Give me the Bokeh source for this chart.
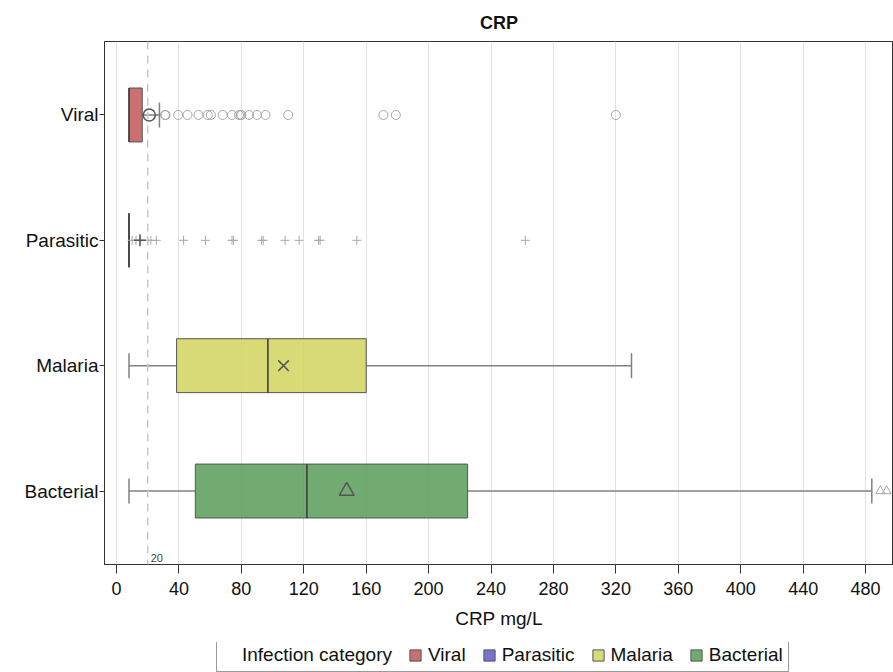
import math
from bokeh.plotting import figure
from bokeh.layouts import column
from bokeh.models import (ColumnDataSource, Range1d, FixedTicker, Span, Label,
                          Legend, LegendItem)
from bokeh.embed import file_html
from bokeh.resources import INLINE

# ---- data ----
categories = ["Viral", "Parasitic", "Malaria", "Bacterial"]
q1 = [8, 8, 38.5, 50.5]
median = [8, 8, 97, 122]
q3 = [16.5, 8, 160, 225]
whisker_low = [8, 8, 8, 8]
whisker_high = [27.5, 8, 330, 484]
means = [21, 15, 107, 147.5]
viral_outliers = [31, 31.5, 39.5, 45.5, 52.5, 58.5, 60.5, 68, 74, 78.5, 79.5, 80,
                  85, 90, 95.5, 110, 171, 179, 320]
parasitic_outliers = [10, 12.5, 15.5, 20, 22, 25.5, 43, 57, 74, 75, 93, 94, 108,
                      117, 129.5, 130.5, 154, 262]
malaria_outliers = []
bacterial_outliers = [489.5, 493.5]
outliers = [viral_outliers, parasitic_outliers, malaria_outliers, bacterial_outliers]
x_ticks = [0, 40, 80, 120, 160, 200, 240, 280, 320, 360, 400, 440, 480]
ref_value = 20
legend_title = "Infection category"

# ---- styles ----
fills = ["#c45c5c", "#6262c8", "#d3d562", "#5e9f5e"]
markers = ["circle", "cross", "x", "triangle"]
FONT = "Liberation Sans"
BOX_ALPHA = 0.88

n = len(categories)
ys = [n - i for i in range(n)]

p = figure(width=893, height=642, x_range=Range1d(-7.7, 497.9),
           y_range=Range1d(0.414, 4.586), output_backend="svg",
           toolbar_location=None, title="CRP",
           min_border_left=104, min_border_right=0, min_border_top=41,
           min_border_bottom=78)

p.title.align = "center"
p.title.text_font = FONT
p.title.text_font_size = "18px"
p.title.text_font_style = "bold"
p.title.text_color = "#111111"
p.title.offset = 6
p.title.standoff = 18

p.outline_line_color = "#333333"
p.outline_line_width = 1

p.xaxis.ticker = FixedTicker(ticks=x_ticks)
p.xgrid.ticker = FixedTicker(ticks=x_ticks)
p.xgrid.grid_line_color = "#e2e2e2"
p.ygrid.grid_line_color = None
p.yaxis.ticker = FixedTicker(ticks=ys)
p.yaxis.major_label_overrides = {y: c for y, c in zip(ys, categories)}

for ax in (p.xaxis[0], p.yaxis[0]):
    ax.axis_line_color = "#333333"
    ax.major_tick_line_color = "#333333"
    ax.minor_tick_line_color = None
    ax.major_tick_in = 0
    ax.major_label_text_font = FONT
    ax.major_label_text_color = "#111111"
p.xaxis.major_label_text_font_size = "18px"
p.yaxis.major_label_text_font_size = "19px"
p.xaxis.major_tick_out = 9
p.yaxis.major_tick_out = 5
p.xaxis.major_label_standoff = 8
p.yaxis.major_label_standoff = 1
p.xaxis.axis_label = "CRP mg/L"
p.xaxis.axis_label_text_font = FONT
p.xaxis.axis_label_text_font_size = "19px"
p.xaxis.axis_label_text_font_style = "normal"
p.xaxis.axis_label_text_color = "#111111"
p.xaxis.axis_label_standoff = 10

# reference line
p.add_layout(Span(location=ref_value, dimension="height", line_color="#c8c8c8",
                  line_dash="8 6", line_width=1.5))
p.add_layout(Label(x=ref_value, y=0.414, x_offset=3, y_offset=3, text=str(ref_value),
                   text_font=FONT, text_font_size="11px", text_color="#444444",
                   text_baseline="bottom"))

sources = []
for i, cat in enumerate(categories):
    src = ColumnDataSource(dict(y=[ys[i]], q1=[q1[i]], med=[median[i]], q3=[q3[i]],
                                lo=[whisker_low[i]], hi=[whisker_high[i]],
                                mean=[means[i]]))
    sources.append(src)
    p.segment(x0="lo", y0="y", x1="q1", y1="y", source=src,
              line_color="#808080", line_width=1.5)
    p.segment(x0="q3", y0="y", x1="hi", y1="y", source=src,
              line_color="#808080", line_width=1.5)
    if whisker_low[i] < q1[i]:
        p.scatter(x="lo", y="y", source=src, marker="dash", angle=math.pi / 2,
                  size=25, line_color="#808080", line_width=1.5)
    if whisker_high[i] > q3[i]:
        p.scatter(x="hi", y="y", source=src, marker="dash", angle=math.pi / 2,
                  size=25, line_color="#808080", line_width=1.5)
    p.hbar(y="y", left="q1", right="q3", height=0.43, source=src,
           fill_color=fills[i], fill_alpha=BOX_ALPHA, line_color="#555555",
           line_width=1)
    p.scatter(x="med", y="y", source=src, marker="dash", angle=math.pi / 2,
              size=54, line_color="#3a3a3a", line_width=1.5)
    if outliers[i]:
        osrc = ColumnDataSource(dict(x=outliers[i], y=[ys[i]] * len(outliers[i])))
        p.scatter(x="x", y="y", source=osrc, marker=markers[i], size=9,
                  fill_color=None, line_color="#a8a8a8", line_width=1)
    p.scatter(x="mean", y="y", source=src, marker=markers[i],
              size=12 if markers[i] in ("circle", "cross") else 15,
              fill_color=None, line_color="#555555", line_width=1.5)

# ---- legend strip below the chart ----
# The strip's ranges lie away from the data, so the proxy boxes (the same
# category sources) are not drawn in it; they only feed the legend swatches.
lg = figure(width=893, height=30, x_range=Range1d(-20, -10), y_range=Range1d(-20, -10),
            x_axis_type=None, y_axis_type=None, output_backend="svg",
            toolbar_location=None, min_border=0, outline_line_color=None)
blank = lg.scatter(x=[], y=[], size=1, fill_alpha=0, line_alpha=0)
items = [LegendItem(label=legend_title, renderers=[blank])]
for i, cat in enumerate(categories):
    r = lg.hbar(y="y", left="q1", right="q3", height=0.43, source=sources[i],
                fill_color=fills[i], fill_alpha=BOX_ALPHA, line_color="#555555",
                line_width=1)
    items.append(LegendItem(label=cat, renderers=[r]))

legend = Legend(items=items, orientation="horizontal", location=(112, 0),
                border_line_color="#333333", border_line_width=1, padding=5,
                spacing=16, label_standoff=6, glyph_width=14, glyph_height=14,
                margin=0, label_height=20, label_text_font=FONT,
                label_text_font_size="19px", label_text_color="#111111",
                background_fill_alpha=1)
lg.add_layout(legend, "center")

layout = column(p, lg, spacing=0)
open("out.html", "w").write(file_html(layout, INLINE))
